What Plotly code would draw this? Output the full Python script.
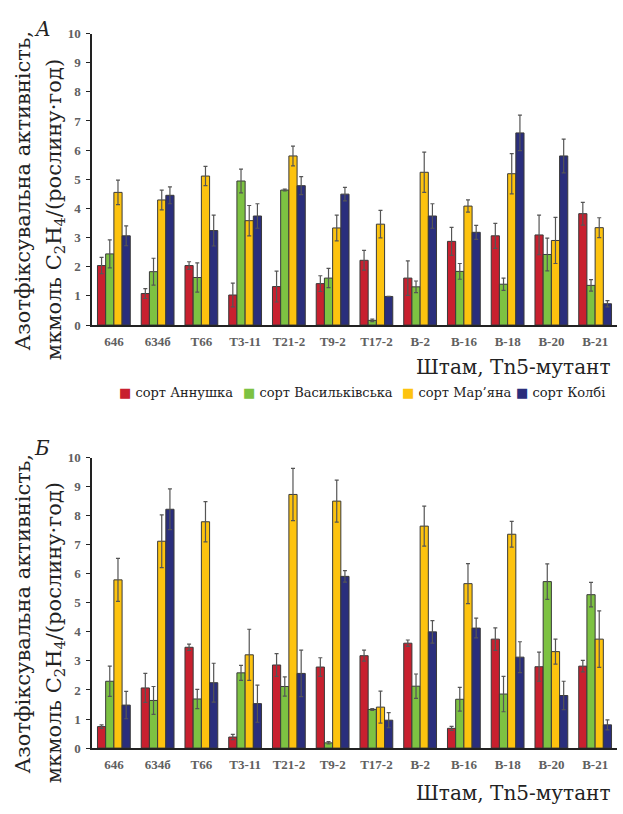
import plotly.graph_objects as go

W, H = 623, 814

strains = ["646", "634б", "T66", "T3-11", "T21-2", "T9-2", "T17-2", "B-2", "B-16", "B-18", "B-20", "B-21"]
varieties = ["сорт Аннушка", "сорт Васильківська", "сорт Мар’яна", "сорт Колбі"]
colors = ["#C8202F", "#7DC242", "#FDC30F", "#2A2E7C"]

# Panel A values and errors
a_annushka = [2.04, 1.08, 2.04, 1.03, 1.32, 1.42, 2.22, 1.61, 2.87, 3.06, 3.09, 3.82]
a_annushka_err = [0.28, 0.17, 0.13, 0.41, 0.53, 0.27, 0.34, 0.59, 0.48, 0.43, 0.68, 0.39]
a_vasylkivska = [2.44, 1.83, 1.63, 4.94, 4.63, 1.61, 0.16, 1.31, 1.84, 1.40, 2.42, 1.36]
a_vasylkivska_err = [0.48, 0.46, 0.50, 0.41, 0.03, 0.33, 0.04, 0.20, 0.27, 0.21, 0.56, 0.20]
a_maryana = [4.55, 4.29, 5.11, 3.58, 5.80, 3.33, 3.46, 5.24, 4.08, 5.19, 2.90, 3.34]
a_maryana_err = [0.42, 0.34, 0.33, 0.52, 0.34, 0.44, 0.47, 0.69, 0.21, 0.69, 0.79, 0.34]
a_kolbi = [3.06, 4.45, 3.24, 3.74, 4.78, 4.49, 0.98, 3.74, 3.18, 6.59, 5.80, 0.73]
a_kolbi_err = [0.34, 0.29, 0.53, 0.42, 0.31, 0.23, 0.0, 0.42, 0.24, 0.61, 0.58, 0.11]

# Panel Б values and errors
b_annushka = [0.74, 2.07, 3.47, 0.38, 2.86, 2.79, 3.18, 3.61, 0.68, 3.75, 2.80, 2.82]
b_annushka_err = [0.06, 0.50, 0.11, 0.09, 0.39, 0.32, 0.19, 0.11, 0.07, 0.39, 0.50, 0.20]
b_vasylkivska = [2.30, 1.64, 1.69, 2.59, 2.12, 0.18, 1.33, 2.13, 1.68, 1.86, 5.73, 5.28]
b_vasylkivska_err = [0.52, 0.48, 0.33, 0.26, 0.33, 0.04, 0.03, 0.42, 0.41, 0.61, 0.61, 0.42]
b_maryana = [5.79, 7.12, 7.79, 3.21, 8.73, 8.50, 1.41, 7.64, 5.66, 7.36, 3.32, 3.75]
b_maryana_err = [0.74, 0.91, 0.69, 0.88, 0.90, 0.72, 0.55, 0.69, 0.69, 0.44, 0.43, 0.97]
b_kolbi = [1.48, 8.22, 2.25, 1.53, 2.57, 5.91, 0.96, 4.00, 4.13, 3.13, 1.81, 0.80]
b_kolbi_err = [0.47, 0.70, 0.67, 0.64, 0.80, 0.20, 0.26, 0.39, 0.34, 0.53, 0.49, 0.17]

y_ticks = list(range(0, 11))

panel_a = [(a_annushka, a_annushka_err), (a_vasylkivska, a_vasylkivska_err),
           (a_maryana, a_maryana_err), (a_kolbi, a_kolbi_err)]
panel_b = [(b_annushka, b_annushka_err), (b_vasylkivska, b_vasylkivska_err),
           (b_maryana, b_maryana_err), (b_kolbi, b_kolbi_err)]

SERIF = "DejaVu Serif, serif"
TICKSERIF = "Liberation Serif, serif"

fig = go.Figure()

for p, (panel, xa, ya) in enumerate([(panel_a, "x", "y"), (panel_b, "x2", "y2")]):
    for i, (vals, errs) in enumerate(panel):
        fig.add_trace(go.Bar(
            x=strains, y=vals, name=varieties[i],
            xaxis=xa, yaxis=ya,
            marker=dict(color=colors[i], line=dict(color="#3a3a3a", width=1)),
            error_y=dict(type="data", array=errs, visible=True, color="#555555",
                         thickness=1.2, width=2),
            showlegend=False,
            offsetgroup=str(i),
        ))


def px_x(v):
    return min(1.0, max(0.0, v / W))


def px_y(v):
    return min(1.0, max(0.0, 1 - v / H))


xdom = [px_x(92), px_x(617)]
axis_common = dict(showgrid=False, zeroline=False, showline=True, linecolor="#222", linewidth=1.5)
tickfont = dict(family=TICKSERIF, size=13, color="#606060", weight="bold")

fig.update_layout(
    width=W, height=H,
    margin=dict(l=0, r=0, t=0, b=0),
    paper_bgcolor="white", plot_bgcolor="white",
    barmode="group", bargap=0.25, bargroupgap=0.0,
    showlegend=False,
    xaxis=dict(domain=xdom, anchor="y", ticks="", tickfont=tickfont, ticklabelstandoff=4, **axis_common),
    yaxis=dict(domain=[px_y(324), px_y(27)], anchor="x", range=[0, 10], tickvals=y_ticks,
               ticks="outside", ticklen=4, tickcolor="#222", tickfont=tickfont,
               ticklabelstandoff=3, **axis_common),
    xaxis2=dict(domain=xdom, anchor="y2", ticks="", tickfont=tickfont, ticklabelstandoff=4, **axis_common),
    yaxis2=dict(domain=[px_y(755), px_y(459)], anchor="x2", range=[0, 10], tickvals=y_ticks,
                ticks="outside", ticklen=4, tickcolor="#222", tickfont=tickfont,
                ticklabelstandoff=3, **axis_common),
    font=dict(family=SERIF),
)

ann = []
title1 = "Азотфіксувальна активність,"
title2 = "мкмоль C<sub>2</sub>H<sub>4</sub>/(рослину·год)"
tfont = dict(family=SERIF, size=21, color="#222")
for off in (0, 431):
    ann.append(dict(text=title1, x=px_x(23), y=px_y(187 + off), xref="paper", yref="paper",
                    textangle=-90, showarrow=False, font=tfont,
                    xanchor="center", yanchor="middle"))
    ann.append(dict(text=title2, x=px_x(55), y=px_y(207 + off), xref="paper", yref="paper",
                    textangle=-90, showarrow=False, font=tfont,
                    xanchor="center", yanchor="middle"))
for ypos in (367, 801):
    ann.append(dict(text="Штам, Tn5-мутант", x=px_x(613), y=px_y(ypos), xref="paper", yref="paper",
                    showarrow=False, font=dict(family=SERIF, size=20, color="#222"),
                    xanchor="right", yanchor="middle"))
ann.append(dict(text="<i>A</i>", x=px_x(42), y=px_y(22), xref="paper", yref="paper",
                showarrow=False, font=dict(family=SERIF, size=20, color="#222"),
                xanchor="center", yanchor="middle"))
ann.append(dict(text="<i>Б</i>", x=px_x(42), y=px_y(449), xref="paper", yref="paper",
                showarrow=False, font=dict(family=SERIF, size=20, color="#222"),
                xanchor="center", yanchor="middle"))

# legend row (one line, as in the reference)
legend_x = [117, 241, 400, 514]
for i, name in enumerate(varieties):
    ann.append(dict(
        text=f"<span style='color:{colors[i]}'>■</span> {name}",
        x=px_x(legend_x[i]), y=px_y(393), xref="paper", yref="paper",
        showarrow=False, font=dict(family=SERIF, size=13, color="#222"),
        xanchor="left", yanchor="middle"))

fig.update_layout(annotations=ann)

# remove the default page margin so the figure sits exactly in the window
fig.write_html("out.html", config={"displayModeBar": False},
               post_script="document.body.style.margin='0';document.body.style.overflow='hidden';")
